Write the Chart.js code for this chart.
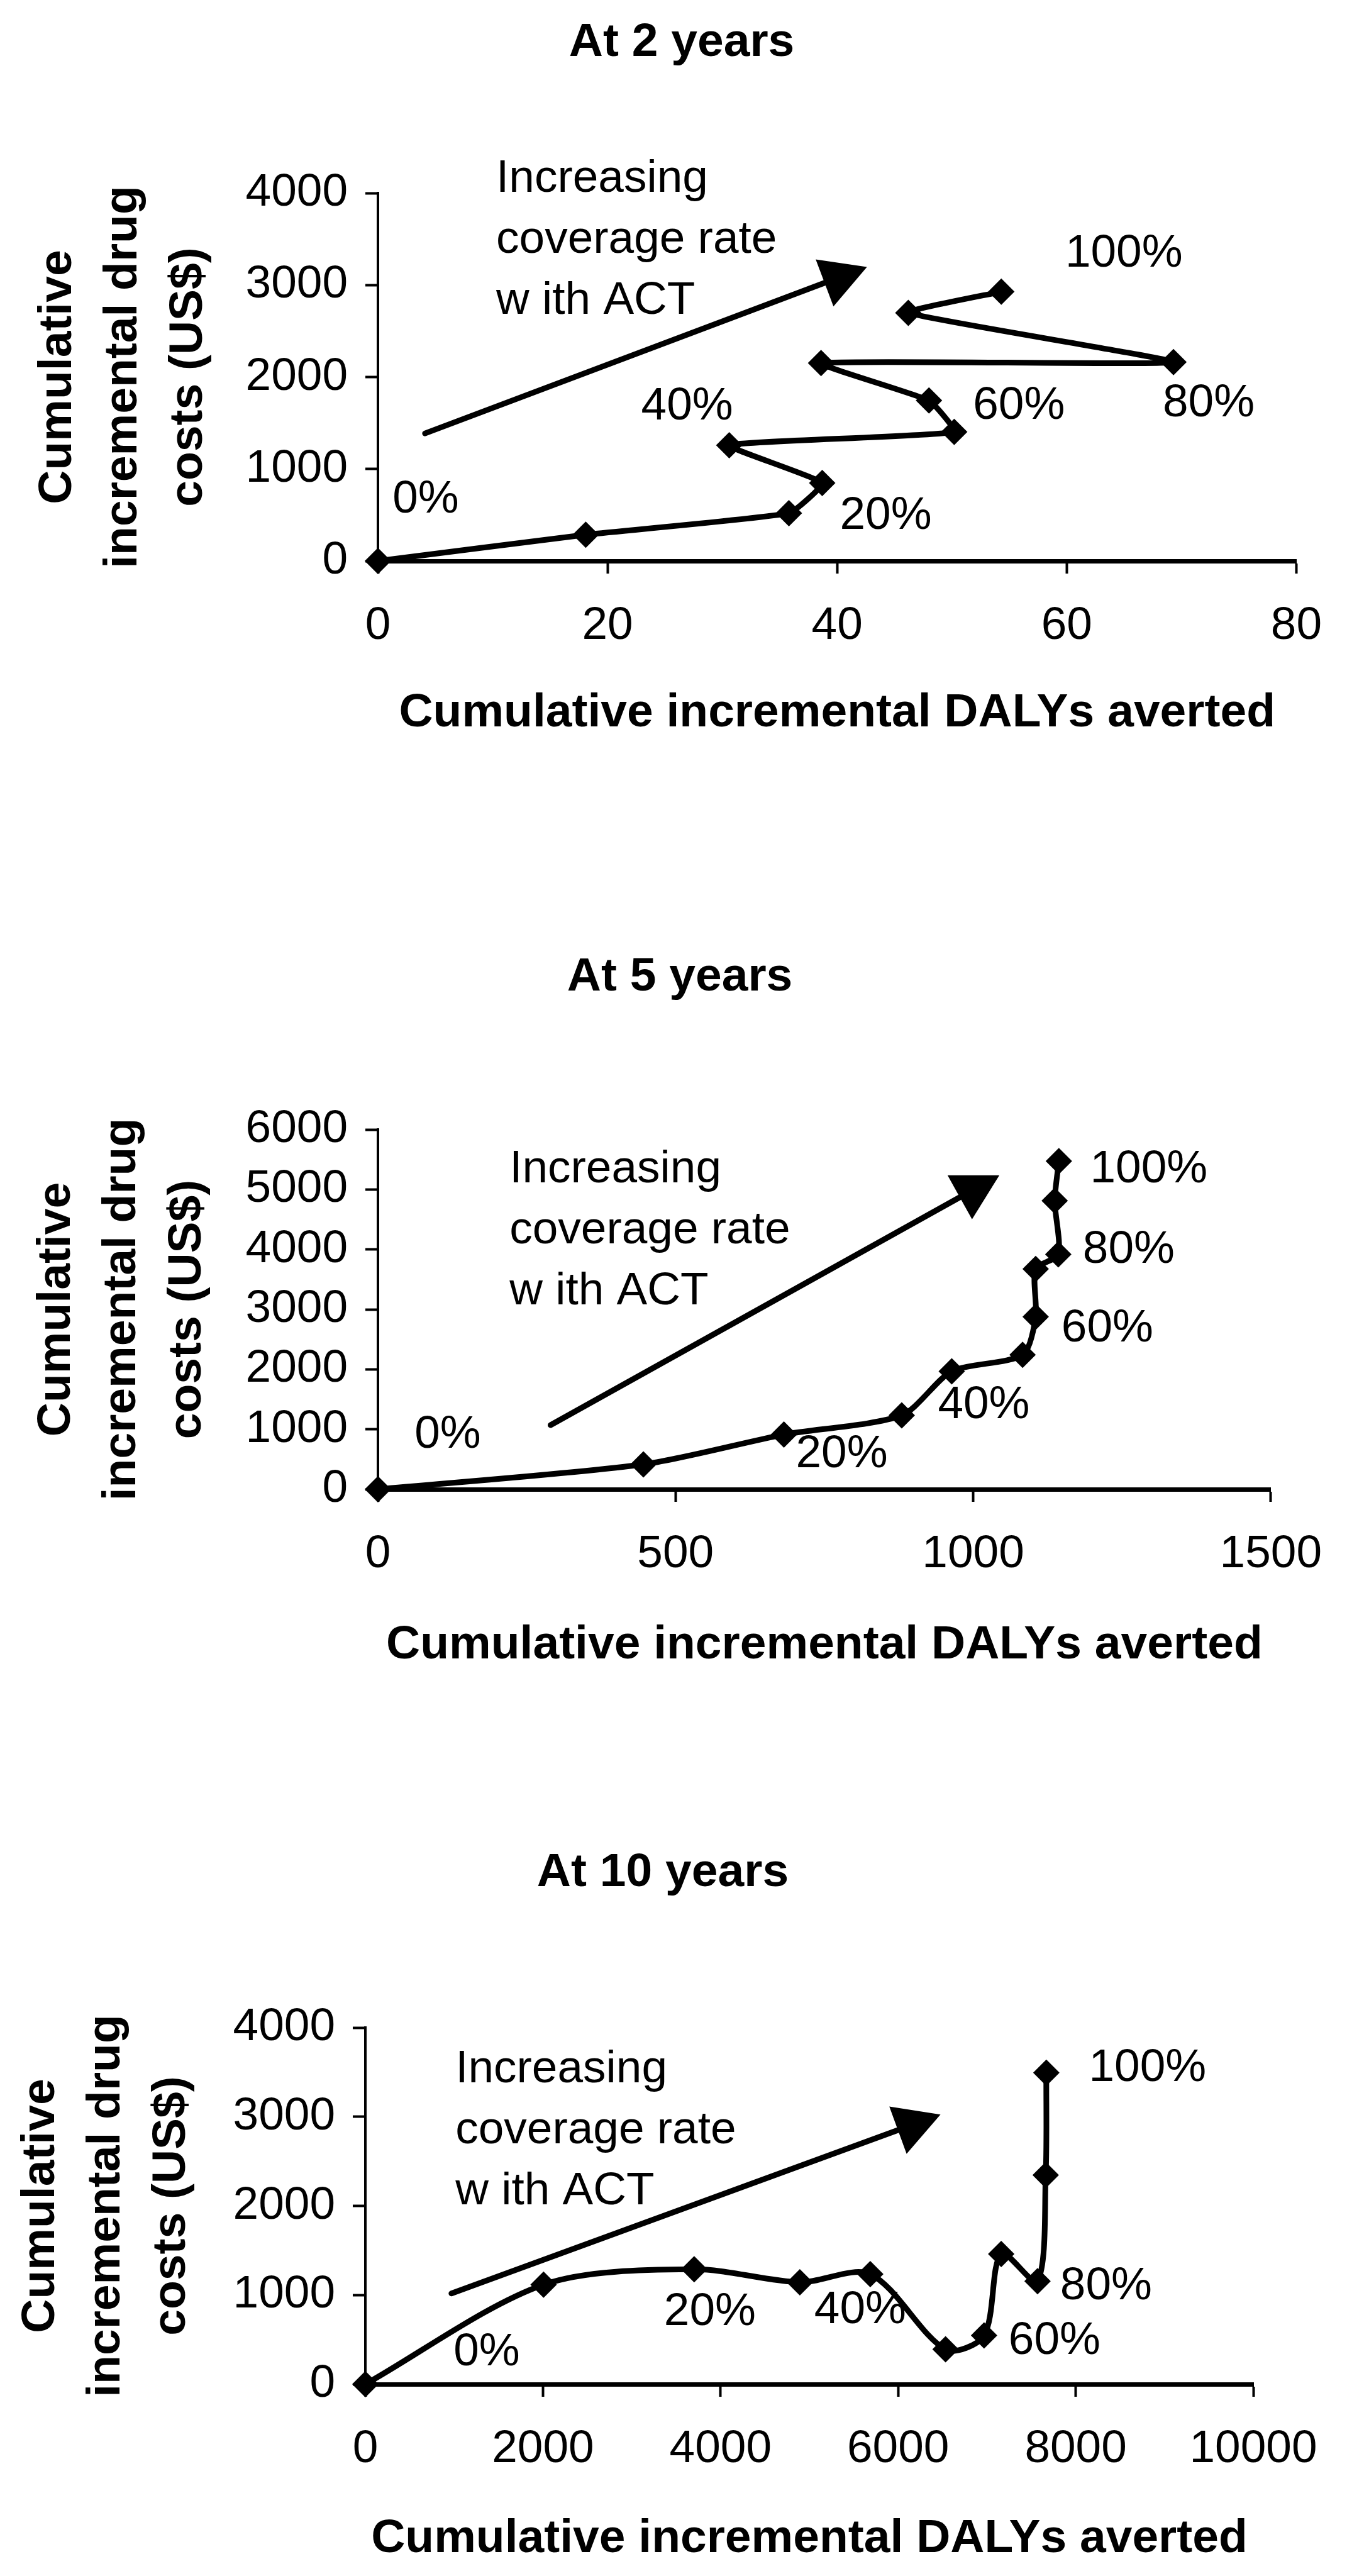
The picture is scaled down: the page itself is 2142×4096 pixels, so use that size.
<!DOCTYPE html>
<html>
<head>
<meta charset="utf-8">
<script src="https://cdn.jsdelivr.net/npm/chart.js@4/dist/chart.umd.min.js"></script>
<style>
  html, body { margin: 0; padding: 0; background: #fff; }
  #page { position: relative; width: 2142px; height: 4096px; background: #fff; overflow: hidden; }
  canvas { position: absolute; left: 0; }
</style>
</head>
<body>
<div id="page">
  <canvas id="chart2yr" width="2142" height="1250" style="top:0px;width:2142px;height:1250px"></canvas>
  <canvas id="chart5yr" width="2142" height="1390" style="top:1300px;width:2142px;height:1390px"></canvas>
  <canvas id="chart10yr" width="2142" height="1396" style="top:2700px;width:2142px;height:1396px"></canvas>
</div>
<script>
// Coverage rate with ACT for each point along the curves
const coverage = ['0%', '10%', '20%', '30%', '40%', '50%', '60%', '70%', '80%', '90%', '100%'];
const labelledCoverage = ['0%', '20%', '40%', '60%', '80%', '100%'];

// At 2 years
const dalys2yr = [0, 18.1, 35.8, 38.7, 30.6, 50.2, 48.0, 38.6, 69.3, 46.2, 54.3];
const costs2yr = [0, 286, 520, 848, 1258, 1403, 1745, 2152, 2162, 2698, 2928];
const xTicks2yr = [0, 20, 40, 60, 80];
const yTicks2yr = [0, 1000, 2000, 3000, 4000];

// At 5 years
const dalys5yr = [0, 446, 682, 880, 964, 1083, 1105, 1105, 1143, 1137, 1144];
const costs5yr = [0, 415, 912, 1232, 1967, 2241, 2877, 3673, 3917, 4811, 5472];
const xTicks5yr = [0, 500, 1000, 1500];
const yTicks5yr = [0, 1000, 2000, 3000, 4000, 5000, 6000];

// At 10 years
const dalys10yr = [0, 2007, 3703, 4893, 5686, 6534, 6968, 7161, 7570, 7662, 7669];
const costs10yr = [0, 1117, 1289, 1143, 1234, 391, 547, 1461, 1155, 2346, 3493];
const xTicks10yr = [0, 2000, 4000, 6000, 8000, 10000];
const yTicks10yr = [0, 1000, 2000, 3000, 4000];

const noteLines = ['Increasing', 'coverage rate', 'w ith ACT'];
const xAxisTitle = 'Cumulative incremental DALYs averted';
const yAxisTitle = ['Cumulative', 'incremental drug', 'costs (US$)'];

const FAMILY = "'Liberation Sans', Arial, Helvetica, sans-serif";
const TEXT_SIZE = 73;
const BOLD_SIZE = 75;
const NOTE_LINE = 97;
const HEAD_LEN = 72;
const HEAD_W = 80;

// Draws the coverage labels, the explanatory note and its arrow
function annotations(cfg) {
  return {
    id: 'annotations',
    afterDatasetsDraw(chart) {
      const { ctx } = chart;
      const xs = chart.scales.x, ys = chart.scales.y;
      const meta = chart.getDatasetMeta(0);
      ctx.save();
      ctx.fillStyle = '#000';
      ctx.strokeStyle = '#000';
      ctx.font = TEXT_SIZE + 'px ' + FAMILY;
      ctx.textBaseline = 'middle';

      // note text
      ctx.textAlign = 'left';
      const nx = xs.getPixelForValue(cfg.note.x);
      const ny = ys.getPixelForValue(cfg.note.y);
      noteLines.forEach((t, i) => ctx.fillText(t, nx, ny + i * NOTE_LINE));

      // arrow
      const fx = xs.getPixelForValue(cfg.arrow.from[0]);
      const fy = ys.getPixelForValue(cfg.arrow.from[1]);
      const tx = xs.getPixelForValue(cfg.arrow.to[0]);
      const ty = ys.getPixelForValue(cfg.arrow.to[1]);
      const ang = Math.atan2(ty - fy, tx - fx);
      const bx = tx - Math.cos(ang) * HEAD_LEN;
      const by = ty - Math.sin(ang) * HEAD_LEN;
      ctx.lineWidth = 9;
      ctx.lineCap = 'round';
      ctx.beginPath();
      ctx.moveTo(fx, fy);
      ctx.lineTo(bx, by);
      ctx.stroke();
      ctx.beginPath();
      ctx.moveTo(tx, ty);
      ctx.lineTo(bx + Math.sin(ang) * HEAD_W / 2, by - Math.cos(ang) * HEAD_W / 2);
      ctx.lineTo(bx - Math.sin(ang) * HEAD_W / 2, by + Math.cos(ang) * HEAD_W / 2);
      ctx.closePath();
      ctx.fill();

      // coverage labels next to their points
      ctx.textAlign = 'center';
      labelledCoverage.forEach((lab, k) => {
        const p = meta.data[coverage.indexOf(lab)];
        const off = cfg.labelOffsets[k];
        ctx.fillText(lab, p.x + off[0], p.y + off[1]);
      });
      ctx.restore();
    }
  };
}

function buildChart(id, cfg) {
  const points = cfg.xs.map((v, i) => ({ x: v, y: cfg.ys[i] }));
  const tickFont = { family: FAMILY, size: TEXT_SIZE };
  const boldFont = { family: FAMILY, size: BOLD_SIZE, weight: 'bold', lineHeight: 1.2 };
  return new Chart(document.getElementById(id), {
    type: 'scatter',
    data: {
      datasets: [{
        data: points,
        showLine: true,
        borderColor: '#000',
        borderWidth: 9,
        tension: cfg.tension,
        pointStyle: 'rectRot',
        pointRadius: 21,
        pointBackgroundColor: '#000',
        pointBorderColor: '#000',
        pointBorderWidth: 0,
        clip: false
      }]
    },
    options: {
      responsive: false,
      animation: false,
      devicePixelRatio: 1,
      layout: { padding: { left: cfg.padL, right: cfg.padR, top: 0, bottom: 0 } },
      plugins: {
        legend: { display: false },
        tooltip: { enabled: false },
        title: {
          display: true,
          text: cfg.title,
          color: '#000',
          font: boldFont,
          padding: { top: cfg.titleTop, bottom: cfg.titleBottom }
        }
      },
      scales: {
        x: {
          type: 'linear',
          min: cfg.xTicks[0],
          max: cfg.xTicks[cfg.xTicks.length - 1],
          afterBuildTicks: s => { s.ticks = cfg.xTicks.map(v => ({ value: v })); },
          afterFit: s => { s.height = cfg.xH; },
          border: { display: true, color: '#000', width: 7 },
          grid: { display: true, drawOnChartArea: false, drawTicks: true, tickLength: 20, tickColor: '#000', tickWidth: 4 },
          ticks: { color: '#000', font: tickFont, padding: 40, maxRotation: 0, autoSkip: false, callback: v => String(v) },
          title: { display: true, text: xAxisTitle, color: '#000', font: boldFont, padding: { top: 0, bottom: cfg.xTitleBottom } }
        },
        y: {
          type: 'linear',
          min: cfg.yTicks[0],
          max: cfg.yTicks[cfg.yTicks.length - 1],
          afterBuildTicks: s => { s.ticks = cfg.yTicks.map(v => ({ value: v })); },
          afterFit: s => { s.width = cfg.yW; },
          border: { display: true, color: '#000', width: 4 },
          grid: { display: true, drawOnChartArea: false, drawTicks: true, tickLength: 20, tickColor: '#000', tickWidth: 4 },
          ticks: { color: '#000', font: tickFont, padding: 28, autoSkip: false, callback: v => String(v) },
          title: {
            display: true,
            text: yAxisTitle,
            color: '#000',
            font: { family: FAMILY, size: BOLD_SIZE, weight: 'bold', lineHeight: 104 / BOLD_SIZE },
            padding: { top: cfg.yTitleTop, bottom: 0 }
          }
        }
      }
    },
    plugins: [annotations(cfg)]
  });
}

buildChart('chart2yr', {
  title: 'At 2 years',
  xs: dalys2yr, ys: costs2yr, xTicks: xTicks2yr, yTicks: yTicks2yr,
  tension: 0.12,
  padL: 85, padR: 59, yW: 516, xH: 358,
  titleTop: 23, titleBottom: 194, xTitleBottom: 71, yTitleTop: -45,
  note: { x: 10.3, y: 4150 },
  arrow: { from: [4.1, 1387], to: [42.6, 3197] },
  labelOffsets: [[76, -97], [154, 5], [-67, -61], [143, 9], [56, 66], [195, -60]]
});

buildChart('chart5yr', {
  title: 'At 5 years',
  xs: dalys5yr, ys: costs5yr, xTicks: xTicks5yr, yTicks: yTicks5yr,
  tension: 0.25,
  padL: 119, padR: 99, yW: 482, xH: 322,
  titleTop: 209, titleBottom: 197, xTitleBottom: 29, yTitleTop: -81,
  note: { x: 221, y: 5330 },
  arrow: { from: [290, 1070], to: [1044, 5237] },
  labelOffsets: [[111, -86], [92, 32], [51, 54], [114, 19], [112, -7], [143, 14]]
});

buildChart('chart10yr', {
  title: 'At 10 years',
  xs: dalys10yr, ys: costs10yr, xTicks: xTicks10yr, yTicks: yTicks10yr,
  tension: 0.3,
  padL: 115, padR: 149, yW: 466, xH: 305,
  titleTop: 233, titleBottom: 201, xTitleBottom: 14, yTitleTop: -102,
  note: { x: 1014, y: 3529 },
  arrow: { from: [969, 1018], to: [6477, 3024] },
  labelOffsets: [[193, -50], [25, 69], [-16, 58], [112, 9], [109, 9], [161, -7]]
});
</script>
</body>
</html>
